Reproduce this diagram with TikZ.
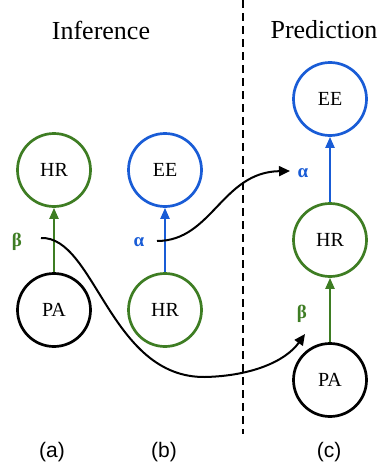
\documentclass[tikz,border=0pt]{standalone}
\usepackage{fontspec}
\setmainfont{Liberation Serif}
\setsansfont{Liberation Sans}
\usetikzlibrary{arrows.meta}
\definecolor{grn}{RGB}{62,125,35}
\definecolor{blu}{RGB}{25,92,214}
\begin{document}
\begin{tikzpicture}[x=1pt,y=-1pt,
  var/.style={circle,draw,line width=2.7pt,minimum size=73pt,inner sep=0pt,font=\fontsize{20}{24}\selectfont},
  ttl/.style={font=\fontsize{26}{30}\selectfont},
  sub/.style={font=\sffamily\fontsize{21}{24}\selectfont},
  coef/.style={font=\bfseries\fontsize{19}{22}\selectfont},
  edge/.style={line width=2.2pt,-{Triangle[length=11pt,width=9pt]}},
  link/.style={line width=2pt,black,-{Triangle[length=11pt,width=10pt]}}]
\useasboundingbox (0,0) rectangle (377,471);
% titles
\node[ttl] (tinf) at (101,30) {Inference};
\node[ttl] (tpred) at (324,30) {Prediction};
% divider
\coordinate (dtop) at (243,0);
\coordinate (dbot) at (243,434);
\draw[line width=1.6pt,dash pattern=on 8pt off 5pt] (dtop) -- (dbot);
% (a)
\node[var,draw=grn] (hra) at (54,170) {HR};
\node[var,draw=black] (paa) at (54,310) {PA};
\draw[edge,grn] (paa) -- (hra);
\node[coef,text=grn] (beta1) at (17,242) {β};
% (b)
\node[var,draw=blu] (eeb) at (165,170) {EE};
\node[var,draw=grn] (hrb) at (165,310) {HR};
\draw[edge,blu] (hrb) -- (eeb);
\node[coef,text=blu] (alpha1) at (139,242) {α};
% (c)
\node[var,draw=blu] (eec) at (330,99) {EE};
\node[var,draw=grn] (hrc) at (330,240) {HR};
\node[var,draw=black] (pac) at (330,380) {PA};
\draw[edge,blu] (hrc) -- (eec);
\draw[edge,grn] (pac) -- (hrc);
\node[coef,text=blu] (alpha2) at (303,173) {α};
\node[coef,text=grn] (beta2) at (302,314) {β};
% transfer curves
\coordinate (b1s) at (41,238);
\coordinate (b1e) at (305,334);
\coordinate (a1s) at (157,241);
\coordinate (a1e) at (290,171);
\draw[link] (b1s) .. controls (95,236) and (110,378) .. (205,377) .. controls (250,376) and (285,362) .. (b1e);
\draw[link] (a1s) .. controls (212,241) and (222,172) .. (a1e);
% sub labels
\node[sub] (la) at (52,452) {(a)};
\node[sub] (lb) at (164,452) {(b)};
\node[sub] (lc) at (329,452) {(c)};
\end{tikzpicture}
\end{document}
